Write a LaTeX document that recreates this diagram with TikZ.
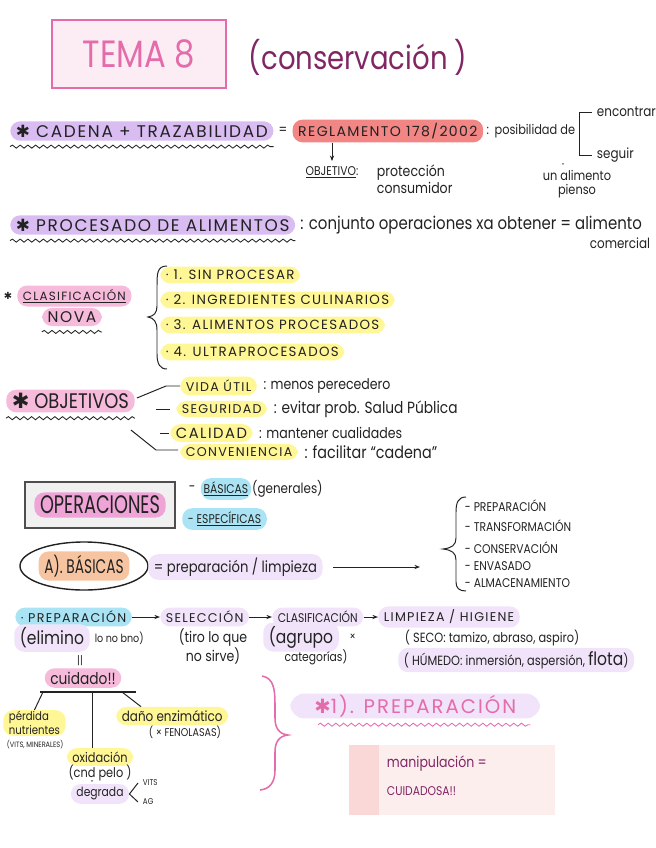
\documentclass[tikz,border=0pt]{standalone}
\usepackage{fontspec}
\setmainfont{Poppins}[FakeStretch=0.85]
\newfontfamily\capsfont{Poppins}[LetterSpace=10]
\newfontfamily\tallfont{Poppins}[FakeStretch=0.7]
\newfontfamily\symbolfont{DejaVu Sans}
\usepackage{tikz}
\usetikzlibrary{shapes.geometric, arrows.meta, positioning, calc, decorations.pathmorphing}
\definecolor{temaPink}{RGB}{228,108,170}
\definecolor{temaPlum}{RGB}{128,38,100}
\definecolor{inkGray}{RGB}{34,34,34}
\definecolor{lilaFuerte}{RGB}{216,188,242}
\definecolor{lilaSuave}{RGB}{241,228,250}
\definecolor{salmonReg}{RGB}{242,134,132}
\definecolor{rosaPastel}{RGB}{246,186,218}
\definecolor{rosaFuerte}{RGB}{238,164,214}
\definecolor{amarillo}{RGB}{255,246,150}
\definecolor{celeste}{RGB}{170,228,244}
\definecolor{melocoton}{RGB}{246,196,160}
\definecolor{notaRosa}{RGB}{253,238,238}
\definecolor{notaBanda}{RGB}{250,216,216}
\newcommand{\estrella}{{\symbolfont ✱}}

\begin{document}
\begin{tikzpicture}[x=0.025cm, y=-0.025cm, font=\fontsize{10}{12}\selectfont, text=inkGray,
  hl/.style={rounded corners=7pt, inner xsep=4pt, inner ysep=2.5pt},
  caps/.style={font=\capsfont\fontsize{9}{11}\selectfont},
  capsN/.style={font=\fontsize{9}{11}\selectfont},
  onda/.style={decorate, decoration={snake, amplitude=1.1pt, segment length=5.5pt}, line width=0.6pt, draw=inkGray},
  trazo/.style={line width=0.7pt, draw=inkGray},
  flecha/.style={trazo, -{Stealth[length=4pt]}}]
  \useasboundingbox (0,0) rectangle (656,848);

  % ── Título ──
  \node (tema) [draw=temaPink, line width=1.8pt, fill=temaPink!12, minimum width=4.35cm,
        minimum height=1.7cm, text=temaPink, font=\fontsize{27}{30}\selectfont] at (139,54) {TEMA 8};
  \node (conserv) [anchor=west, text=temaPlum, font=\fontsize{23}{26}\selectfont] at (244,57) {(conservación )};

  % ── Cadena + trazabilidad ──
  \node (cadena) [hl, fill=lilaFuerte, anchor=west, font=\capsfont\fontsize{12}{14}\selectfont] at (10,131)
    {\estrella\ CADENA + TRAZABILIDAD};
  \draw[onda] ([yshift=-4pt]cadena.south west) -- ([yshift=-4pt]cadena.south east);
  \node (igual1) [right=0pt of cadena] {=};
  \node (regl) [hl, fill=salmonReg, right=0pt of igual1, font=\capsfont\fontsize{10}{13}\selectfont] {REGLAMENTO 178/2002};
  \node (posib) [right=1pt of regl, inner xsep=1pt, font=\fontsize{9.5}{11}\selectfont] {:\hspace{4pt}posibilidad de};
  \node (encontrar) [anchor=west] at (592,112) {encontrar};
  \node (seguir) [anchor=west] at (592,155) {seguir};
  \draw[trazo] (encontrar.west) -- ++(-13,0) |- (seguir.west);
  \node (objetivo) [capsN] at (332,172) {\underline{OBJETIVO}:};
  \draw[flecha] (objetivo.north |- regl.south) -- (objetivo.north);
  \node (proteccion) [anchor=west, align=left, font=\fontsize{10.5}{12}\selectfont] at (372,179)
    {protección\\consumidor};
  \node (ditto1) [font=\tiny] at (563,166) {"};
  \node (unalimento) [align=center, font=\fontsize{9.5}{10}\selectfont] at (577,184) {un alimento\\pienso};

  % ── Procesado ──
  \node (procesado) [hl, fill=lilaFuerte, anchor=west, font=\capsfont\fontsize{12}{14}\selectfont] at (10,225)
    {\estrella\ PROCESADO DE ALIMENTOS};
  \draw[onda] ([yshift=-4pt]procesado.south west) -- ([yshift=-4pt]procesado.south east);
  \node (conjunto) [right=0pt of procesado, font=\fontsize{12.5}{14}\selectfont]
    {: conjunto operaciones xa obtener = alimento};
  \node (comercial) at (620,243) {comercial};

  % ── Clasificación NOVA ──
  \node (astClasif) [font=\fontsize{7}{7}\selectfont] at (8,296) {\estrella};
  \node (clasif) [hl, fill=rosaPastel, anchor=west, font=\capsfont\fontsize{8.5}{11}\selectfont] at (17,296)
    {\underline{CLASIFICACIÓN}};
  \node (nova) [hl, fill=rosaPastel, font=\capsfont\fontsize{11}{13}\selectfont] at (72,317) {NOVA};
  \draw[onda] ([yshift=-4pt]nova.south west) -- ([yshift=-4pt]nova.south east);
  \draw[trazo] (167,266) .. controls (157,266) and (157,274) .. (157,286) -- (157,306)
    .. controls (157,313) and (154,316) .. (148,317) .. controls (154,318) and (157,322) .. (157,330)
    -- (157,354) .. controls (157,364) and (160,369) .. (167,369);
  \foreach \y/\nom/\txt in {275/sinProc/{1. SIN PROCESAR}, 300/ingred/{2. INGREDIENTES CULINARIOS},
                           325/alimProc/{3. ALIMENTOS PROCESADOS}, 352/ultra/{4. ULTRAPROCESADOS}} {
    \node (\nom) [hl, fill=amarillo, anchor=west, caps, font=\capsfont\fontsize{9.5}{11}\selectfont] at (160,\y) {· \txt};
  }

  % ── Objetivos ──
  \node (objetivos) [hl, fill=rosaPastel, anchor=west, font=\fontsize{15}{17}\selectfont] at (6,401)
    {\estrella\ OBJETIVOS};
  \draw[onda] ([yshift=-4pt]objetivos.south west) -- ([yshift=-4pt]objetivos.south east);
  \node (vida) [hl, fill=amarillo, anchor=west, caps] at (180,386) {VIDA ÚTIL};
  \node (vidaTxt) [right=1pt of vida, font=\fontsize{10.5}{12}\selectfont] {: menos perecedero};
  \node (seguridad) [hl, fill=amarillo, anchor=west, caps] at (176,409) {SEGURIDAD};
  \node (seguridadTxt) [right=1pt of seguridad, font=\fontsize{11.5}{13}\selectfont] {: evitar prob. Salud Pública};
  \node (calidad) [hl, fill=amarillo, anchor=west, font=\capsfont\fontsize{10.5}{13}\selectfont] at (170,433) {CALIDAD};
  \node (calidadTxt) [right=1pt of calidad, font=\fontsize{10.5}{12}\selectfont] {: mantener cualidades};
  \node (conveniencia) [hl, fill=amarillo, anchor=west, caps] at (180,452) {CONVENIENCIA};
  \node (convenienciaTxt) [right=1pt of conveniencia, font=\fontsize{12}{14}\selectfont] {: facilitar “cadena”};
  \draw[trazo] ($(objetivos.east)+(2,-3)$) -- ($(vida.west)+(-14,0)$) -- (vida.west);
  \draw[trazo] ($(seguridad.west)+(-20,0)$) -- ($(seguridad.west)+(-6,0)$);
  \draw[trazo] ($(calidad.west)+(-10,0)$) -- ($(calidad.west)+(-1,0)$);
  \draw[trazo] ($(objetivos.east)+(-4,29)$) -- ($(conveniencia.west)+(-24,-2)$) -- ($(conveniencia.west)+(-2,-2)$);

  % ── Operaciones ──
  \node (opbox) [draw=inkGray!80, line width=1pt, fill=gray!12, minimum width=3.75cm,
        minimum height=1.15cm] at (100,505) {};
  \node (operaciones) [hl, fill=rosaFuerte, font=\tallfont\fontsize{18}{20}\selectfont] at (opbox.center) {OPERACIONES};
  \node (guion1) [anchor=west] at (184,489) {-};
  \node (basicasOp) [hl, fill=celeste, right=0pt of guion1, capsN, inner xsep=2pt] {\underline{BÁSICAS}};
  \node (generales) [right=-3pt of basicasOp] {(generales)};
  \node (especificas) [hl, fill=celeste, anchor=west, capsN] at (182,519) {- \underline{ESPECÍFICAS}};

  % ── A) Básicas ──
  \node (elipse) [ellipse, draw=inkGray, line width=1pt, minimum width=3.2cm, minimum height=1.2cm] at (84,566) {};
  \node (basicasA) [hl, fill=melocoton, font=\tallfont\fontsize{14}{16}\selectfont] at (elipse.center) {A). BÁSICAS};
  \node (prepLimp) [hl, fill=lilaSuave, anchor=west, font=\fontsize{11}{13}\selectfont] at (148,567)
    {= preparación / limpieza};
  \coordinate (finFlecha) at (420,567);
  \draw[flecha] ($(prepLimp.east)+(10,0)$) -- (finFlecha);
  \draw[trazo] (466,497) .. controls (458,497) and (456,503) .. (456,512) -- (456,538)
    .. controls (456,545) and (452,548) .. (443,549) .. controls (452,550) and (456,553) .. (456,560)
    -- (456,582) .. controls (456,588) and (459,591) .. (466,591);
  \foreach \y/\nom/\txt in {506/lPrep/PREPARACIÓN, 526/lTrans/TRANSFORMACIÓN, 548/lCons/CONSERVACIÓN,
                           566/lEnv/ENVASADO, 583/lAlm/ALMACENAMIENTO} {
    \node (\nom) [anchor=west, capsN] at (460,\y) {- \txt};
  }

  % ── Cadena de preparación ──
  \node (fPrep) [hl, fill=celeste, anchor=west, caps] at (15,617) {· PREPARACIÓN};
  \node (fSel) [hl, fill=lilaSuave, anchor=west, caps] at (160,617) {SELECCIÓN};
  \node (fClas) [hl, fill=lilaSuave, anchor=west, capsN] at (272,617) {CLASIFICACIÓN};
  \node (fLimp) [hl, fill=lilaSuave, anchor=west, caps] at (378,617) {LIMPIEZA / HIGIENE};
  \draw[flecha] (fPrep.east) -- (fSel.west);
  \draw[flecha] (fSel.east) -- (fClas.west);
  \draw[flecha] (fClas.east) -- (fLimp.west);
  \node (elimino) [hl, fill=lilaSuave, anchor=west, font=\fontsize{13}{15}\selectfont] at (14,638) {(elimino};
  \node (lonobno) [right=0pt of elimino, font=\fontsize{8}{9}\selectfont] {lo no bno)};
  \node (tiro) [align=center, font=\fontsize{10.5}{11.5}\selectfont] at (213,646) {(tiro lo que\\no sirve)};
  \node (agrupo) [hl, fill=lilaSuave, anchor=west, font=\fontsize{13}{15}\selectfont] at (263,637) {(agrupo};
  \node (por) [right=4pt of agrupo, font=\fontsize{8}{9}\selectfont] {×};
  \node (categorias) [font=\fontsize{9}{10}\selectfont] at (316,657) {categorías)};
  \node (seco) [anchor=west, font=\fontsize{9.5}{10}\selectfont] at (400,638) {( SECO: tamizo, abraso, aspiro)};
  \node (humedo) [hl, fill=lilaSuave, anchor=west, font=\fontsize{9.5}{11}\selectfont] at (398,660)
    {( HÚMEDO: inmersión, aspersión, {\fontsize{13}{13}\selectfont flota})};

  % ── Cuidado ──
  \node (igualV) [font=\fontsize{8}{8}\selectfont] at (80,661) {||};
  \node (cuidado) [hl, fill=rosaPastel, font=\fontsize{11.5}{13}\selectfont] at (83,678) {cuidado!!};
  \coordinate (barraIzq) at (40,692);
  \coordinate (barraMed) at (92,692);
  \coordinate (barraDer) at (136,692);
  \draw[trazo, line width=1pt] (barraIzq) -- (barraDer);
  \node (perdida) [hl, fill=amarillo, anchor=west, align=left, inner ysep=1pt,
        font=\fontsize{8.5}{9.5}\selectfont] at (3,723) {pérdida\\nutrientes};
  \node (vitsMin) [anchor=west, font=\fontsize{5.5}{6}\selectfont] at (2,745) {(VITS, MINERALES)};
  \node (dano) [hl, fill=amarillo, anchor=west, font=\fontsize{10}{12}\selectfont] at (116,716) {daño enzimático};
  \node (fenolasas) [font=\fontsize{8}{9}\selectfont] at (185,732) {( × FENOLASAS)};
  \node (oxidacion) [hl, fill=amarillo, font=\fontsize{9.5}{11}\selectfont] at (100,757) {oxidación};
  \node (cndPelo) [font=\fontsize{9.5}{11}\selectfont] at (100,773) {(cnd pelo )};
  \node (ditto2) [font=\tiny] at (92,783) {"};
  \node (degrada) [hl, fill=lilaSuave, font=\fontsize{9}{10}\selectfont] at (100,794) {degrada};
  \node (vitsD) [anchor=west, font=\fontsize{6}{7}\selectfont] at (138,783) {VITS};
  \node (agD) [anchor=west, font=\fontsize{6}{7}\selectfont] at (138,802) {AG};
  \draw[trazo] (degrada.east) -- (vitsD.west);
  \draw[trazo] (degrada.east) -- (agD.west);
  \draw[trazo] ($(barraIzq)+(3,0)$) -- (perdida.north);
  \draw[trazo] (barraMed) -- (barraMed |- oxidacion.north);
  \draw[trazo] ($(barraDer)+(-14,0)$) -- ($(dano.north west)+(25,0)$);

  % ── Llave rosa y 1) Preparación ──
  \draw[temaPink, line width=1.1pt] (262,676) .. controls (274,678) and (275,690) .. (275,705) -- (275,718)
    .. controls (275,728) and (279,734) .. (288,735) .. controls (279,736) and (275,742) .. (275,752)
    -- (275,770) .. controls (275,782) and (270,789) .. (260,790);
  \node (prepTitulo) [hl, fill=lilaSuave, anchor=west, text=temaPink, rounded corners=10pt, inner xsep=0.6cm,
        inner ysep=1pt, font=\capsfont\fontsize{14}{16}\selectfont] at (290,706) {\estrella1). PREPARACIÓN};
  \draw[onda, draw=temaPink] ($(prepTitulo.south west)+(28,6)$) -- ($(prepTitulo.south east)+(-10,6)$);
  \node (nota) [fill=notaRosa, minimum width=5.125cm, minimum height=1.75cm] at (452,780) {};
  \fill[notaBanda] (nota.south west) rectangle ($(nota.north west)+(30,0)$);
  \node (manip) [anchor=west, text=temaPlum, font=\fontsize{10.5}{12}\selectfont] at (382,764) {manipulación =};
  \node (cuidadosa) [anchor=west, text=temaPlum, capsN] at (382,791) {CUIDADOSA!!};

\end{tikzpicture}
\end{document}
